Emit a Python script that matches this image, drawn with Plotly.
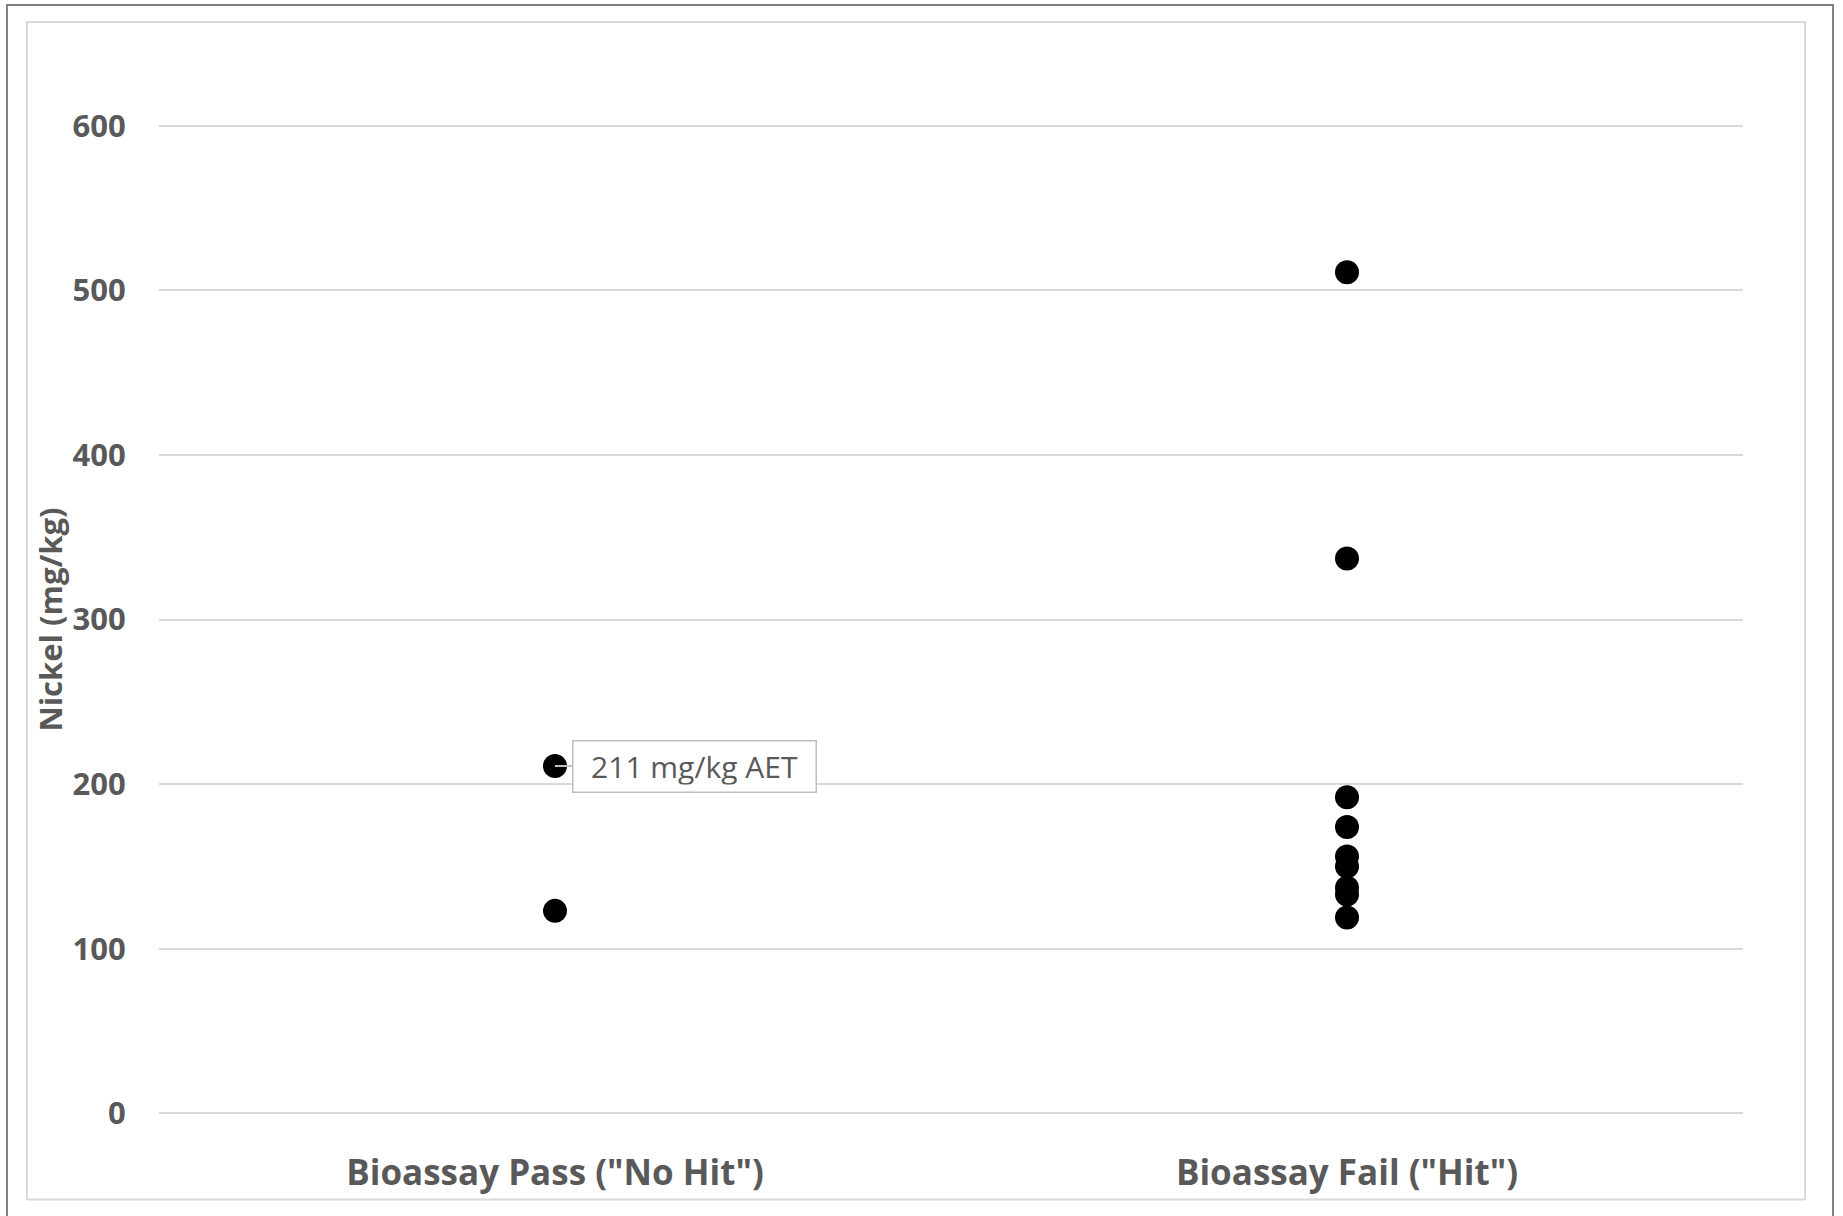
import plotly.graph_objects as go

categories = ['Bioassay Pass ("No Hit")', 'Bioassay Fail ("Hit")']
pass_values = [211, 123]
fail_values = [511, 337, 192, 174, 156, 150, 137, 133, 119]
y_ticks = [0, 100, 200, 300, 400, 500, 600]
aet_value = 211
aet_label = "211 mg/kg AET"

FONT = "Open Sans"
GRAY = "#595959"

fig = go.Figure()
fig.add_trace(go.Scatter(
    x=[categories[0]] * len(pass_values), y=pass_values, mode="markers",
    marker=dict(color="black", size=24), showlegend=False, hoverinfo="y"))
fig.add_trace(go.Scatter(
    x=[categories[1]] * len(fail_values), y=fail_values, mode="markers",
    marker=dict(color="black", size=24), showlegend=False, hoverinfo="y"))

fig.add_annotation(
    x=categories[0], y=aet_value, text=aet_label, showarrow=True,
    ax=139, ay=0, arrowhead=0, arrowwidth=2, arrowcolor="#bfbfbf", standoff=0,
    bordercolor="#bfbfbf", borderwidth=1.5, borderpad=7, bgcolor="white",
    width=228, height=36,
    font=dict(family=FONT, size=30, color=GRAY))

# chart borders
fig.add_shape(type="rect", xref="paper", yref="paper",
              x0=-0.09596, x1=1.05682, y0=-0.13, y1=1.1201,
              line=dict(color="#808080", width=2), layer="below")
fig.add_shape(type="rect", xref="paper", yref="paper",
              x0=-0.08333, x1=1.03914, y0=-0.0852, y1=1.1030,
              line=dict(color="#d9d9d9", width=2), layer="below")

fig.update_xaxes(
    type="category", categoryorder="array", categoryarray=categories,
    range=[-0.5, 1.5], showgrid=False, zeroline=False, showline=False,
    ticks="outside", ticklen=27, tickcolor="rgba(0,0,0,0)",
    tickfont=dict(family=FONT, size=35, color=GRAY, weight="bold"))
fig.update_yaxes(
    range=[-1, 601], tickvals=y_ticks, showgrid=True, gridcolor="#d9d9d9",
    gridwidth=2, zeroline=False, showline=False,
    ticks="outside", ticklen=26, tickcolor="rgba(0,0,0,0)",
    tickfont=dict(family=FONT, size=31, color=GRAY, weight="bold"),
    title=dict(text="Nickel (mg/kg)", standoff=0,
               font=dict(family=FONT, size=31, color=GRAY, weight="bold")))

fig.update_layout(
    width=1843, height=1216,
    margin=dict(l=159, r=100, t=124, b=101),
    paper_bgcolor="white", plot_bgcolor="white")

fig.write_html("out.html", config={"displayModeBar": False},
               post_script="document.body.style.margin='0';document.body.style.overflow='hidden';")
